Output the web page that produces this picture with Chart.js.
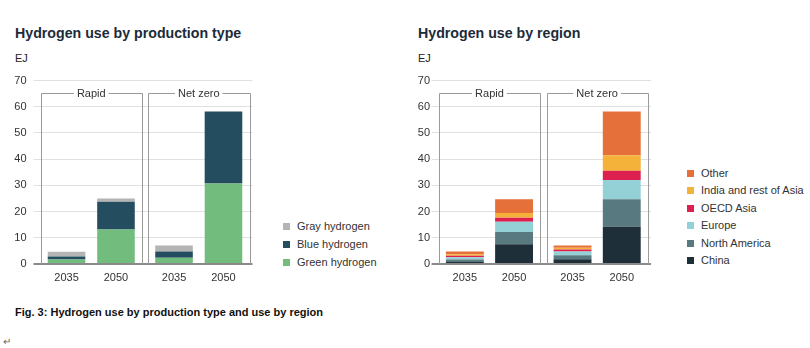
<!DOCTYPE html>
<html>
<head>
<meta charset="utf-8">
<script src="https://cdn.jsdelivr.net/npm/chart.js@4.4.1/dist/chart.umd.min.js"></script>
<style>
    body {
        margin: 0;
        width: 810px;
        height: 348px;
        background: #fff;
        position: relative;
        overflow: hidden;
        font-family: "Liberation Sans", Arial, sans-serif;
    }
    .title {
        position: absolute;
        top: 25px;
        font-size: 14.2px;
        font-weight: bold;
        color: #1c2b39;
        white-space: nowrap;
    }
    .unit {
        position: absolute;
        top: 52px;
        font-size: 11px;
        color: #222;
    }
    canvas {
        position: absolute;
    }
    .legend {
        position: absolute;
        font-size: 11px;
        color: #333;
    }
    .legend .item {
        position: absolute;
        left: 0;
        white-space: nowrap;
        height: 14px;
        line-height: 14px;
    }
    .legend .box {
        display: inline-block;
        width: 7px;
        height: 7px;
        margin-right: 7px;
        vertical-align: 0px;
    }
    .caption {
        position: absolute;
        left: 15px;
        top: 306px;
        font-size: 11px;
        font-weight: bold;
        color: #111;
        white-space: nowrap;
    }
    .mark {
        position: absolute;
        left: 3px;
        top: 336px;
        font-size: 10px;
        color: #666;
    }
</style>
</head>
<body>
<div class="title" style="left:15px">Hydrogen use by production type</div>
<div class="unit" style="left:15px">EJ</div>
<canvas id="type-chart" width="258" height="224" style="left:0px;top:60px"></canvas>
<div class="legend" id="type-legend" style="left:283px;top:219px"></div>

<div class="title" style="left:418px">Hydrogen use by region</div>
<div class="unit" style="left:418px">EJ</div>
<canvas id="region-chart" width="256" height="224" style="left:400px;top:60px"></canvas>
<div class="legend" id="region-legend" style="left:687px;top:166px"></div>

<div class="caption">Fig. 3: Hydrogen use by production type and use by region</div>
<div class="mark">↵</div>

<script>
const scenarios = ["Rapid", "Net zero"];
const years = ["2035", "2050"];

// values in order: Rapid 2035, Rapid 2050, Net zero 2035, Net zero 2050
const greenhydrogen = [1.7, 13.2, 2.4, 30.7];
const bluehydrogen = [1.2, 10.5, 2.4, 27.5];
const grayhydrogen = [1.8, 1.3, 2.3, 0];

const china = [0.8, 7.5, 1.8, 14.2];
const northamerica = [0.9, 4.7, 1.5, 10.5];
const europe = [0.9, 3.9, 1.5, 7.3];
const oecdasia = [0.5, 1.5, 0.7, 3.6];
const indiaasia = [0.6, 1.9, 0.7, 5.9];
const other = [1.1, 5.2, 0.9, 16.7];

const typeseries = [
    { label: "Green hydrogen", values: greenhydrogen, color: "#72bd7e" },
    { label: "Blue hydrogen", values: bluehydrogen, color: "#244e5f" },
    { label: "Gray hydrogen", values: grayhydrogen, color: "#b4b4b4" },
];

const regionseries = [
    { label: "China", values: china, color: "#1f2f3a" },
    { label: "North America", values: northamerica, color: "#587980" },
    { label: "Europe", values: europe, color: "#94d1d7" },
    { label: "OECD Asia", values: oecdasia, color: "#dc2150" },
    { label: "India and rest of Asia", values: indiaasia, color: "#f4b23a" },
    { label: "Other", values: other, color: "#e5703a" },
];

const font = "Liberation Sans, Arial, sans-serif";
Chart.defaults.font.family = font;
Chart.defaults.font.size = 11;
Chart.defaults.color = "#333";

// scenario boxes and year labels
const panelplugin = {
    id: "panels",
    beforeDatasetsDraw(chart, args, opts) {
        const { ctx } = chart;
        const x = chart.scales.x;
        const y = chart.scales.y;
        const half = x.width / scenarios.length / 2;
        const top = Math.round(y.getPixelForValue(opts.top)) + 0.5;
        const bottom = y.getPixelForValue(0);

        ctx.save();
        ctx.font = `11px ${font}`;
        ctx.strokeStyle = "#9a9a9a";
        ctx.lineWidth = 1;
        ctx.fillStyle = "#333";
        ctx.textAlign = "center";
        ctx.textBaseline = "middle";

        scenarios.forEach((name, i) => {
            const cx = x.getPixelForValue(i);
            const l = Math.round(cx - half + opts.inset) + 0.5;
            const r = Math.round(cx + half - opts.inset) + 0.5;
            const tw = ctx.measureText(name).width;
            ctx.beginPath();
            ctx.moveTo(cx - tw / 2 - 3, top);
            ctx.lineTo(l, top);
            ctx.lineTo(l, bottom);
            ctx.moveTo(cx + tw / 2 + 3, top);
            ctx.lineTo(r, top);
            ctx.lineTo(r, bottom);
            ctx.stroke();
            ctx.fillText(name, cx, top);
        });

        years.forEach((year, j) => {
            const meta = chart.getDatasetMeta(j);
            meta.data.forEach((bar) => ctx.fillText(year, bar.x, bottom + 14));
        });
        ctx.restore();
    },
};

function builddatasets(series) {
    const datasets = [];
    series.forEach((s) => {
        years.forEach((year, j) => {
            datasets.push({
                label: s.label,
                data: scenarios.map((name, i) => s.values[i * years.length + j]),
                backgroundColor: s.color,
                borderWidth: 0,
                stack: year,
            });
        });
    });
    // first series first so year labels can read bar positions from datasets 0 and 1
    return datasets;
}

function buildchart(canvasid, series, layout) {
    const ctx = document.getElementById(canvasid).getContext("2d");
    return new Chart(ctx, {
        type: "bar",
        data: {
            labels: scenarios,
            datasets: builddatasets(series),
        },
        plugins: [panelplugin],
        options: {
            responsive: false,
            animation: false,
            layout: {
                padding: { top: 20.5, bottom: 20, left: 0, right: layout.right },
            },
            datasets: {
                bar: {
                    categoryPercentage: layout.category,
                    barPercentage: layout.bar,
                },
            },
            plugins: {
                legend: { display: false },
                tooltip: { enabled: false },
                panels: { top: 65.3, inset: layout.inset },
            },
            scales: {
                x: { display: false, stacked: true },
                y: {
                    stacked: true,
                    min: 0,
                    max: 70,
                    border: { display: false },
                    ticks: {
                        stepSize: 10,
                        padding: layout.tickpadding,
                        color: "#333",
                        font: { size: 11 },
                    },
                    grid: {
                        tickLength: 4,
                        color: (c) => (c.tick && c.tick.value === 0 ? "#8a8a8a" : "#e0e0e0"),
                        lineWidth: (c) => (c.tick && c.tick.value === 0 ? 2 : 1),
                    },
                    afterFit(scale) {
                        scale.width = layout.axiswidth;
                    },
                },
            },
        },
    });
}

function buildlegend(elid, series, spacing) {
    const el = document.getElementById(elid);
    const items = series.slice().reverse();
    items.forEach((s, i) => {
        const item = document.createElement("div");
        item.className = "item";
        item.style.top = `${i * spacing}px`;
        const box = document.createElement("span");
        box.className = "box";
        box.style.background = s.color;
        item.appendChild(box);
        item.appendChild(document.createTextNode(s.label));
        el.appendChild(item);
    });
}

buildchart("type-chart", typeseries, {
    right: 5.5, axiswidth: 37.5, tickpadding: 7, inset: 3, category: 0.92, bar: 0.76,
});
buildchart("region-chart", regionseries, {
    right: 5, axiswidth: 35.6, tickpadding: 1.5, inset: 3.5, category: 0.914, bar: 0.77,
});

buildlegend("type-legend", typeseries, 18);
buildlegend("region-legend", regionseries, 17.4);
</script>
</body>
</html>
